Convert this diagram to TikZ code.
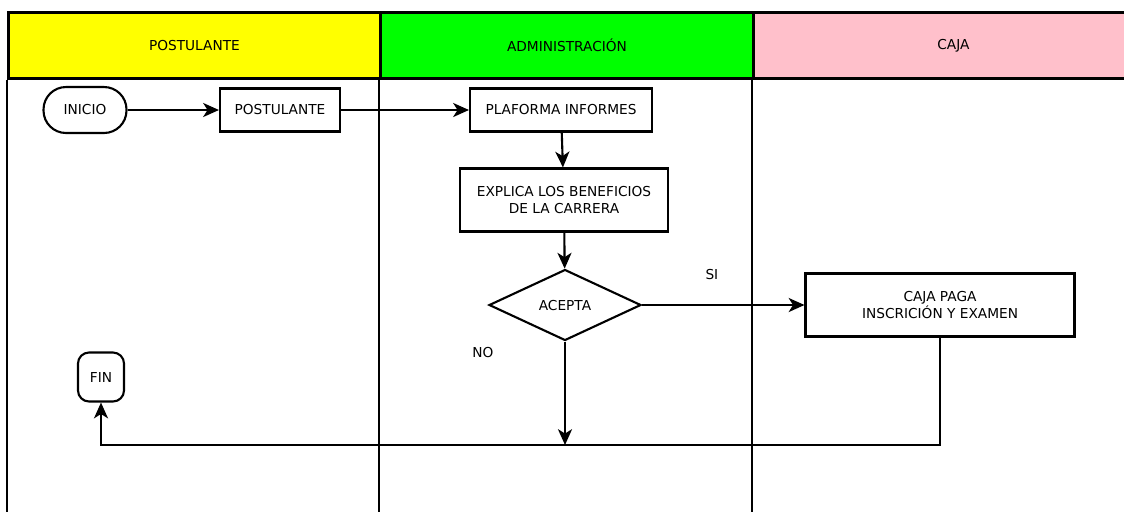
\documentclass[tikz,border=0pt]{standalone}
\usepackage{fontspec}
\setmainfont{DejaVu Sans}
\usetikzlibrary{shapes.geometric,arrows.meta}
\definecolor{amarillo}{HTML}{FFFF00}
\definecolor{verde}{HTML}{00FF00}
\definecolor{rosa}{HTML}{FFC0CB}
\begin{document}
\begin{tikzpicture}[x=0.02cm, y=-0.02cm, >={Stealth[length=9pt,width=8pt,inset=2.5pt]}, font=\fontsize{7.8}{10}\selectfont,
	lane/.style={draw, line width=1.7pt, minimum height=1.32cm, anchor=north west},
	proc/.style={draw, line width=1.2pt, align=center, fill=white},
	term/.style={draw, line width=1.2pt, align=center, fill=white},
	flow/.style={->, line width=1.2pt}]
	\clip (0,0) rectangle (1124,512);
	% carriles
	\node[lane, fill=amarillo, minimum width=7.44cm] (LP) at (7,11) {POSTULANTE};
	\node[lane, fill=verde, minimum width=7.46cm] (LA) at (379,11) {ADMINISTRACIÓN};
	\node[lane, fill=rosa, minimum width=8cm] (LC) at (752,11) {CAJA};
	\draw[line width=1.2pt] (LP.south west) -- (7,512);
	\draw[line width=1.2pt] (LA.south west) -- (379,512);
	\draw[line width=1.2pt] (LC.south west) -- (752,512);
	% nodos
	\node[term, rounded corners=0.45cm, minimum width=1.66cm, minimum height=0.92cm] (ini) at (85,110) {INICIO};
	\node[proc, minimum width=2.4cm, minimum height=0.86cm] (post) at (280,110) {POSTULANTE};
	\node[proc, minimum width=3.64cm, minimum height=0.86cm] (plat) at (561,110) {PLAFORMA INFORMES};
	\node[proc, minimum width=4.16cm, minimum height=1.26cm] (expl) at (564,200) {EXPLICA LOS BENEFICIOS\\DE LA CARRERA};
	\node[draw, diamond, line width=1.2pt, inner sep=0pt, minimum width=3.04cm, minimum height=1.42cm] (acep) at (565,305) {ACEPTA};
	\node[proc, minimum width=5.38cm, minimum height=1.26cm] (caja) at (940,305) {CAJA PAGA\\INSCRICIÓN Y EXAMEN};
	\node[term, rounded corners=0.22cm, minimum width=0.92cm, minimum height=0.98cm] (fin) at (101,377) {FIN};
	\node (no) at (483,352) {NO};
	\coordinate (junta) at (565,445);
	% conectores
	\draw[flow] (ini) -- (post);
	\draw[flow] (post) -- (plat);
	\draw[flow] (plat) -- (expl);
	\draw[flow] (expl) -- (acep);
	\draw[flow] (acep) -- node[pos=0.43, yshift=0.62cm] {SI} (caja);
	\draw[flow] (acep) -- (junta);
	\draw[flow] (caja.south) -- (caja.south |- junta) -| (fin.south);
\end{tikzpicture}
\end{document}
